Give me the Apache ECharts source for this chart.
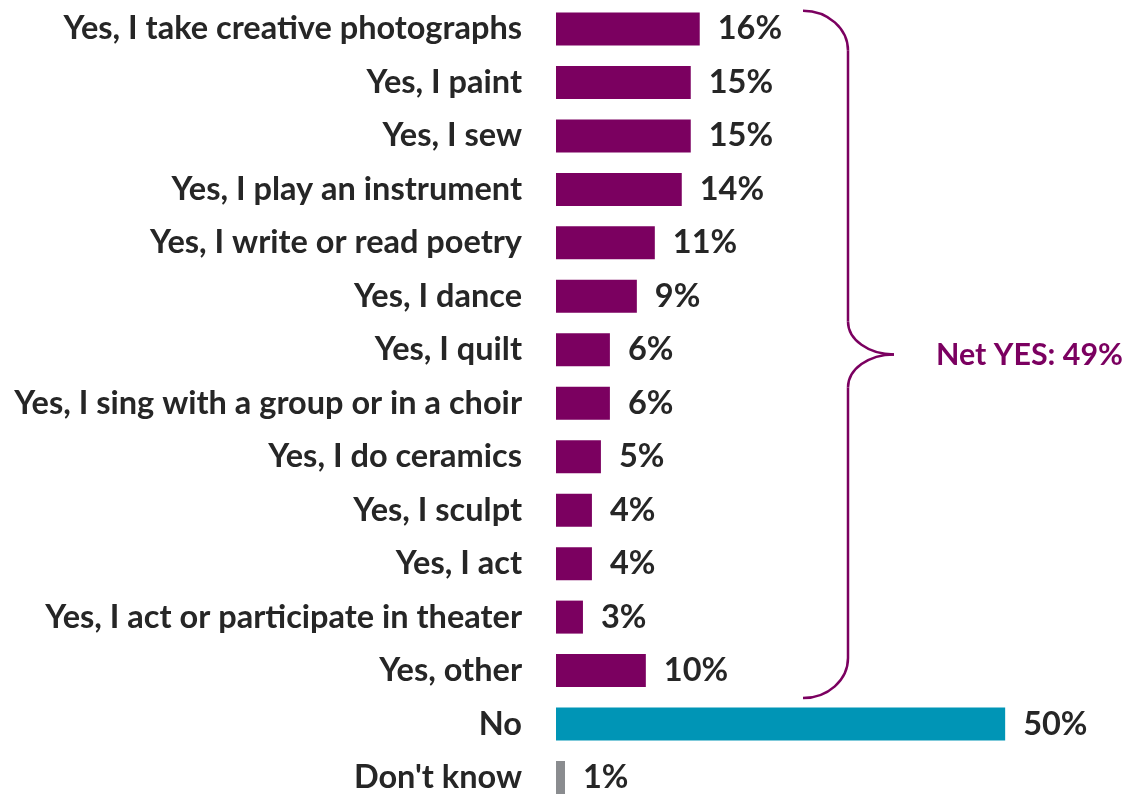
<!DOCTYPE html>
<html>
<head>
<meta charset="utf-8">
<script src="https://cdn.jsdelivr.net/npm/echarts@6/dist/echarts.min.js"></script>
<style>
html,body{margin:0;padding:0;background:#fff;}
#chart{width:1127px;height:794px;}
</style>
</head>
<body>
<div id="chart"></div>
<script>
const categories = [
  "Yes, I take creative photographs",
  "Yes, I paint",
  "Yes, I sew",
  "Yes, I play an instrument",
  "Yes, I write or read poetry",
  "Yes, I dance",
  "Yes, I quilt",
  "Yes, I sing with a group or in a choir",
  "Yes, I do ceramics",
  "Yes, I sculpt",
  "Yes, I act",
  "Yes, I act or participate in theater",
  "Yes, other",
  "No",
  "Don't know"
];
const values = [16, 15, 15, 14, 11, 9, 6, 6, 5, 4, 4, 3, 10, 50, 1];
const groups = ["yes","yes","yes","yes","yes","yes","yes","yes","yes","yes","yes","yes","yes","no","dk"];
const netYesLabel = "Net YES: 49%";

const PURPLE = "#7B0060";
const colorMap = { yes: PURPLE, no: "#0095B6", dk: "#8A8C8F" };
const FONT = "Lato";
const WEIGHT = "bold";
const TEXT = "#262626";

const chart = echarts.init(document.getElementById('chart'), null, { renderer: 'canvas' });

const option = {
  animation: false,
  backgroundColor: '#fff',
  grid: { left: 556, top: 29, width: 539, height: 749.6, containLabel: false },
  xAxis: {
    type: 'value', min: 0, max: 60, show: false
  },
  yAxis: {
    type: 'category', data: categories, inverse: true, boundaryGap: false,
    axisLine: { show: false }, axisTick: { show: false }, splitLine: { show: false },
    axisLabel: {
      margin: 34, color: TEXT, fontFamily: FONT, fontWeight: WEIGHT, fontSize: 32.5
    }
  },
  series: [{
    type: 'bar',
    barWidth: 33,
    clip: false,
    data: values.map((v, i) => ({ value: v, itemStyle: { color: colorMap[groups[i]] } })),
    label: {
      show: true, position: 'right', distance: 18,
      formatter: p => p.value + '%',
      color: TEXT, fontFamily: FONT, fontWeight: WEIGHT, fontSize: 32.5
    }
  }]
};
chart.setOption(option);

// Brace annotation spanning the "Yes" categories
const firstYes = 0, lastYes = 12;
const yTop = chart.convertToPixel({ yAxisIndex: 0 }, categories[firstYes]) - 18.3;
const yBot = chart.convertToPixel({ yAxisIndex: 0 }, categories[lastYes]) + 27.5;
const yMid = (yTop + yBot) / 2;
const x0 = 803, xv = 848, xt = 894;
const rx = xv - x0, ry = 40, rxm = xt - xv, rym = 33, k = 0.552;
const lineStyle = { fill: null, stroke: PURPLE, lineWidth: 2.5 };

// fit the net label to the available width
const ctx = document.createElement('canvas').getContext('2d');
let netSize = 32.5;
ctx.font = `${WEIGHT} ${netSize}px ${FONT}`;
const w = ctx.measureText(netYesLabel).width;
if (w > 187) netSize = netSize * 187 / w;

chart.setOption({
  graphic: [
    { type: 'bezierCurve', shape: { x1: x0, y1: yTop, cpx1: x0 + rx * k, cpy1: yTop, cpx2: xv, cpy2: yTop + ry - ry * k, x2: xv, y2: yTop + ry }, style: lineStyle },
    { type: 'line', shape: { x1: xv, y1: yTop + ry, x2: xv, y2: yMid - rym }, style: lineStyle },
    { type: 'bezierCurve', shape: { x1: xv, y1: yMid - rym, cpx1: xv, cpy1: yMid - rym + rym * k, cpx2: xt - rxm * k, cpy2: yMid, x2: xt, y2: yMid }, style: lineStyle },
    { type: 'bezierCurve', shape: { x1: xt, y1: yMid, cpx1: xt - rxm * k, cpy1: yMid, cpx2: xv, cpy2: yMid + rym - rym * k, x2: xv, y2: yMid + rym }, style: lineStyle },
    { type: 'line', shape: { x1: xv, y1: yMid + rym, x2: xv, y2: yBot - ry }, style: lineStyle },
    { type: 'bezierCurve', shape: { x1: xv, y1: yBot - ry, cpx1: xv, cpy1: yBot - ry + ry * k, cpx2: x0 + rx * k, cpy2: yBot, x2: x0, y2: yBot }, style: lineStyle },
    { type: 'text', x: 936, y: yMid + 1, style: { text: netYesLabel, fill: PURPLE, font: `${WEIGHT} ${netSize}px ${FONT}`, verticalAlign: 'middle', textVerticalAlign: 'middle' } }
  ]
});
</script>
</body>
</html>
